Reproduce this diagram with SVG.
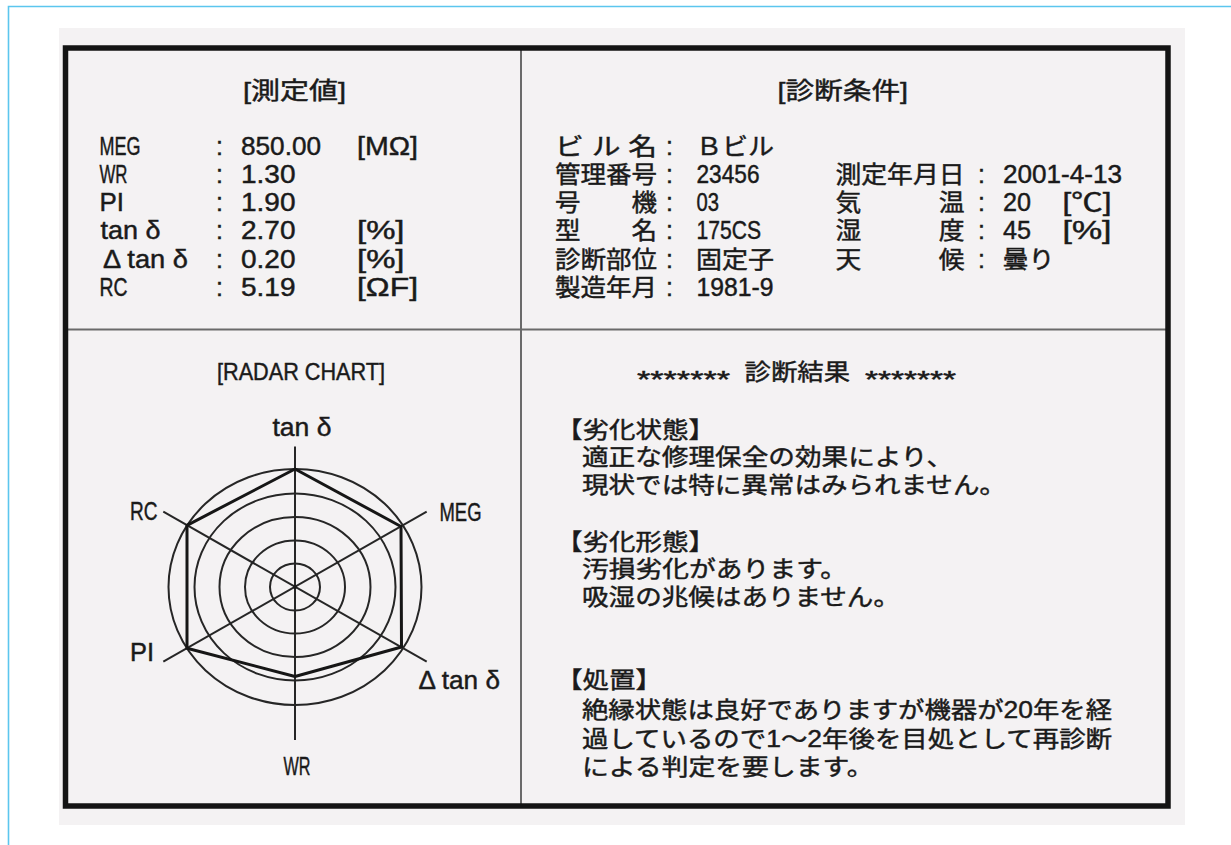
<svg xmlns="http://www.w3.org/2000/svg" width="1231" height="845" viewBox="0 0 1231 845">
<style>
.t{font-family:"Liberation Sans","Noto Sans CJK JP",sans-serif;font-size:24px;fill:#1a1a1a;stroke:#1a1a1a;stroke-width:0.45px}
.l{font-size:25px}
.b{font-size:23px}
.ring{fill:none;stroke:#262626;stroke-width:2}
.axis{fill:none;stroke:#262626;stroke-width:2}
.hex{fill:none;stroke:#161616;stroke-width:3;stroke-linejoin:round}
.div{stroke:#6a6a6a;stroke-width:2}
</style>
<rect x="0" y="0" width="1231" height="845" fill="#ffffff"/>
<path d="M8.5,845 V6.5 H1231" fill="none" stroke="#5cc6ee" stroke-width="1.6"/>
<g id="frame">
<rect x="59" y="28" width="1126" height="797" fill="#f4f2f3"/>
<line class="div" x1="521" y1="48" x2="521" y2="806"/>
<line class="div" x1="65" y1="329.5" x2="1168" y2="329.5"/>
<rect x="65.5" y="48" width="1102.5" height="758" fill="none" stroke="#141414" stroke-width="5.5"/>
</g>
<g id="measured">
<text class="t" x="243" y="99" textLength="103" lengthAdjust="spacingAndGlyphs">[測定値]</text>
<text class="t l" x="99.5" y="154.5" textLength="41" lengthAdjust="spacingAndGlyphs">MEG</text>
<text class="t l" x="99.5" y="182.8" textLength="28" lengthAdjust="spacingAndGlyphs">WR</text>
<text class="t l" x="99.5" y="211.1" textLength="24.5" lengthAdjust="spacingAndGlyphs">PI</text>
<text class="t l" x="100.5" y="239.4" textLength="60" lengthAdjust="spacingAndGlyphs">tan δ</text>
<text class="t l" x="103" y="267.7" textLength="85" lengthAdjust="spacingAndGlyphs">Δ tan δ</text>
<text class="t l" x="99.5" y="296" textLength="28" lengthAdjust="spacingAndGlyphs">RC</text>
<g text-anchor="middle">
<text class="t l" x="219.5" y="154.5">:</text>
<text class="t l" x="219.5" y="182.8">:</text>
<text class="t l" x="219.5" y="211.1">:</text>
<text class="t l" x="219.5" y="239.4">:</text>
<text class="t l" x="219.5" y="267.7">:</text>
<text class="t l" x="219.5" y="296">:</text>
</g>
<text class="t l" x="241" y="154.5" textLength="80" lengthAdjust="spacingAndGlyphs">850.00</text>
<text class="t l" x="241" y="182.8" textLength="54.5" lengthAdjust="spacingAndGlyphs">1.30</text>
<text class="t l" x="241" y="211.1" textLength="54.5" lengthAdjust="spacingAndGlyphs">1.90</text>
<text class="t l" x="241" y="239.4" textLength="54.5" lengthAdjust="spacingAndGlyphs">2.70</text>
<text class="t l" x="241" y="267.7" textLength="54.5" lengthAdjust="spacingAndGlyphs">0.20</text>
<text class="t l" x="241" y="296" textLength="54.5" lengthAdjust="spacingAndGlyphs">5.19</text>
<text class="t l" x="357" y="154.5" textLength="61" lengthAdjust="spacingAndGlyphs">[MΩ]</text>
<text class="t l" x="357" y="239.4" textLength="47.5" lengthAdjust="spacingAndGlyphs">[%]</text>
<text class="t l" x="357" y="267.7" textLength="47.5" lengthAdjust="spacingAndGlyphs">[%]</text>
<text class="t l" x="357" y="296" textLength="61" lengthAdjust="spacingAndGlyphs">[ΩF]</text>
</g>
<g id="conditions">
<text class="t" x="777.5" y="99" textLength="130.5" lengthAdjust="spacingAndGlyphs">[診断条件]</text>
<text class="t" x="555" y="154.5" textLength="102" lengthAdjust="spacingAndGlyphs">ビ ル 名</text>
<text class="t" x="555" y="182.8" textLength="102" lengthAdjust="spacingAndGlyphs">管理番号</text>
<text class="t" x="555" y="211.1" textLength="102" lengthAdjust="spacingAndGlyphs">号　　機</text>
<text class="t" x="555" y="239.4" textLength="102" lengthAdjust="spacingAndGlyphs">型　　名</text>
<text class="t" x="555" y="267.7" textLength="102" lengthAdjust="spacingAndGlyphs">診断部位</text>
<text class="t" x="555" y="296" textLength="102" lengthAdjust="spacingAndGlyphs">製造年月</text>
<g text-anchor="middle">
<text class="t l" x="669.5" y="154.5">:</text>
<text class="t l" x="669.5" y="182.8">:</text>
<text class="t l" x="669.5" y="211.1">:</text>
<text class="t l" x="669.5" y="239.4">:</text>
<text class="t l" x="669.5" y="267.7">:</text>
<text class="t l" x="669.5" y="296">:</text>
<text class="t l" x="981.5" y="182.8">:</text>
<text class="t l" x="981.5" y="211.1">:</text>
<text class="t l" x="981.5" y="239.4">:</text>
<text class="t l" x="981.5" y="267.7">:</text>
</g>
<text class="t" x="696" y="154.5" textLength="78" lengthAdjust="spacingAndGlyphs">Ｂビル</text>
<text class="t l" x="696.5" y="182.8" textLength="63" lengthAdjust="spacingAndGlyphs">23456</text>
<text class="t l" x="696.5" y="211.1" textLength="22.5" lengthAdjust="spacingAndGlyphs">03</text>
<text class="t l" x="696.5" y="239.4" textLength="64.5" lengthAdjust="spacingAndGlyphs">175CS</text>
<text class="t" x="696" y="267.7" textLength="78" lengthAdjust="spacingAndGlyphs">固定子</text>
<text class="t l" x="696.5" y="296" textLength="77" lengthAdjust="spacingAndGlyphs">1981-9</text>
<text class="t" x="835.5" y="182.8" textLength="129" lengthAdjust="spacingAndGlyphs">測定年月日</text>
<text class="t" x="835.5" y="211.1" textLength="129" lengthAdjust="spacingAndGlyphs">気　　　温</text>
<text class="t" x="835.5" y="239.4" textLength="129" lengthAdjust="spacingAndGlyphs">湿　　　度</text>
<text class="t" x="835.5" y="267.7" textLength="129" lengthAdjust="spacingAndGlyphs">天　　　候</text>
<text class="t l" x="1003" y="182.8" textLength="119" lengthAdjust="spacingAndGlyphs">2001-4-13</text>
<text class="t l" x="1003" y="211.1" textLength="28" lengthAdjust="spacingAndGlyphs">20</text>
<text class="t l" x="1003" y="239.4" textLength="28" lengthAdjust="spacingAndGlyphs">45</text>
<text class="t" x="1002.5" y="267.7" textLength="52" lengthAdjust="spacingAndGlyphs">曇り</text>
<text class="t l" x="1062.5" y="211.1" textLength="49" lengthAdjust="spacingAndGlyphs">[℃]</text>
<text class="t l" x="1062.5" y="239.4" textLength="49" lengthAdjust="spacingAndGlyphs">[%]</text>
</g>
<g id="radar">
<text class="t" x="217" y="379.5" textLength="168" lengthAdjust="spacingAndGlyphs">[RADAR  CHART]</text>
<ellipse class="ring" cx="295" cy="587" rx="25" ry="23.5"/>
<ellipse class="ring" cx="295" cy="587" rx="50" ry="46.5"/>
<ellipse class="ring" cx="295" cy="587" rx="75.5" ry="70"/>
<ellipse class="ring" cx="295" cy="587" rx="100.5" ry="93.5"/>
<ellipse class="ring" cx="295" cy="587" rx="126.5" ry="118"/>
<line class="axis" x1="295" y1="446.5" x2="295" y2="740"/>
<line class="axis" x1="163.3" y1="511.7" x2="426.7" y2="661.7"/>
<line class="axis" x1="426.7" y1="511.7" x2="163.3" y2="661.7"/>
<polygon class="hex" points="295,469 401,526.5 401.5,647 295,676.5 187,648.3 187,525.3"/>
<circle cx="295" cy="587" r="2" fill="#1a1a1a"/>
<text class="t l" x="272.5" y="436" textLength="59" lengthAdjust="spacingAndGlyphs">tan δ</text>
<text class="t l" x="439.5" y="520.5" textLength="42" lengthAdjust="spacingAndGlyphs">MEG</text>
<text class="t l" x="130" y="520" textLength="27.5" lengthAdjust="spacingAndGlyphs">RC</text>
<text class="t l" x="130" y="660.5" textLength="24" lengthAdjust="spacingAndGlyphs">PI</text>
<text class="t l" x="418.5" y="689" textLength="81.5" lengthAdjust="spacingAndGlyphs">Δ tan δ</text>
<text class="t l" x="283.5" y="775" textLength="27" lengthAdjust="spacingAndGlyphs">WR</text>
</g>
<g id="result">
<text class="t b" x="637" y="388" textLength="93" lengthAdjust="spacingAndGlyphs">*******</text>
<text class="t b" x="744.5" y="380" textLength="105.5" lengthAdjust="spacingAndGlyphs">診断結果</text>
<text class="t b" x="865" y="388" textLength="91" lengthAdjust="spacingAndGlyphs">*******</text>
<text class="t b" x="556" y="437.5" textLength="159" lengthAdjust="spacingAndGlyphs">【劣化状態】</text>
<text class="t b" x="582" y="465" textLength="371" lengthAdjust="spacingAndGlyphs">適正な修理保全の効果により、</text>
<text class="t b" x="582" y="493.3" textLength="424" lengthAdjust="spacingAndGlyphs">現状では特に異常はみられません。</text>
<text class="t b" x="556" y="549.7" textLength="159" lengthAdjust="spacingAndGlyphs">【劣化形態】</text>
<text class="t b" x="582" y="576.7" textLength="265" lengthAdjust="spacingAndGlyphs">汚損劣化があります。</text>
<text class="t b" x="582" y="605" textLength="318" lengthAdjust="spacingAndGlyphs">吸湿の兆候はありません。</text>
<text class="t b" x="556" y="688" textLength="106" lengthAdjust="spacingAndGlyphs">【処置】</text>
<text class="t b" x="582" y="718" textLength="530" lengthAdjust="spacingAndGlyphs">絶縁状態は良好でありますが機器が20年を経</text>
<text class="t b" x="582" y="746.5" textLength="530" lengthAdjust="spacingAndGlyphs">過しているので1～2年後を目処として再診断</text>
<text class="t b" x="582" y="775" textLength="291.5" lengthAdjust="spacingAndGlyphs">による判定を要します。</text>
</g>
</svg>
